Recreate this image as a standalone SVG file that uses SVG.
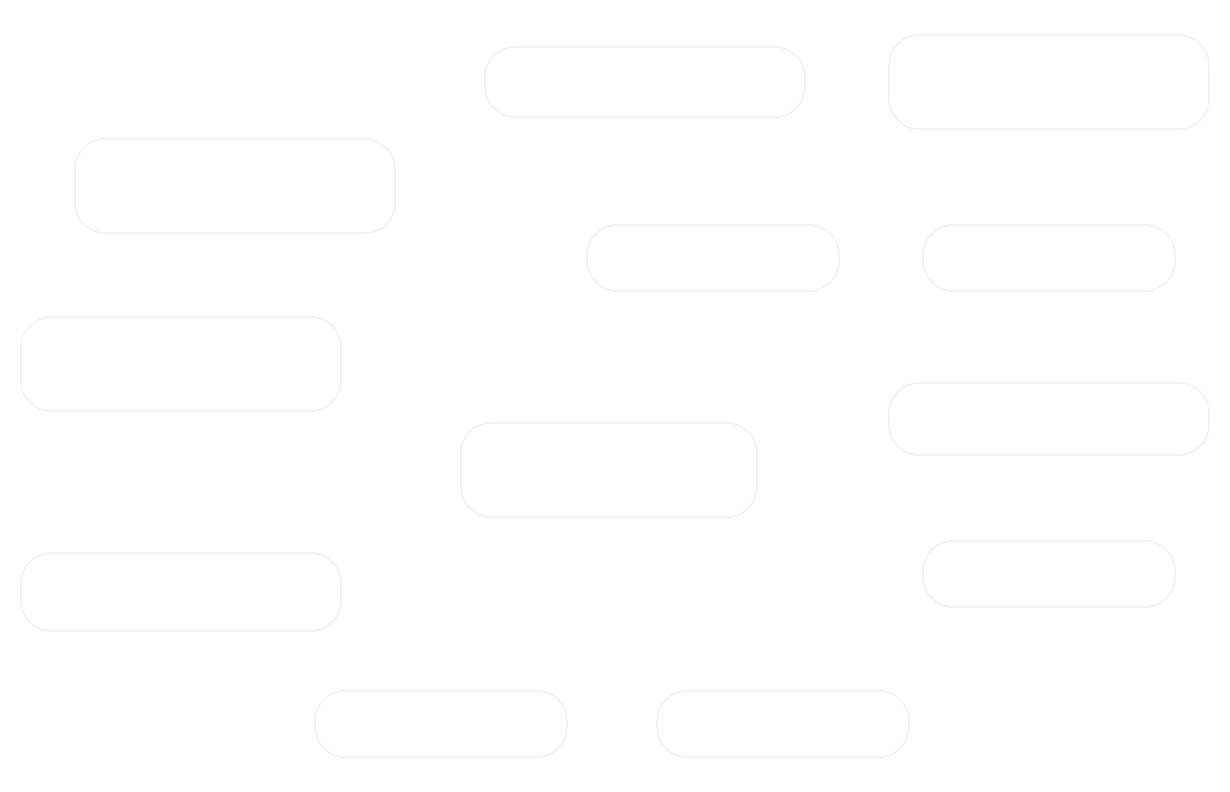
<svg xmlns="http://www.w3.org/2000/svg" width="1230" height="792" viewBox="0 0 1230 792">
<style>
.n{fill:#ffffff;stroke:#f0f0f0;stroke-width:1.5}
</style>
<rect width="1230" height="792" fill="#ffffff"/>
<g id="connectors"></g>
<g id="n1"><rect class="n" x="485" y="47" width="320" height="70" rx="30"/></g>
<g id="n2"><rect class="n" x="889" y="35" width="320" height="94" rx="30"/></g>
<g id="n3"><rect class="n" x="75" y="139" width="320" height="94" rx="30"/></g>
<g id="n4"><rect class="n" x="587" y="225" width="252" height="66" rx="30"/></g>
<g id="n5"><rect class="n" x="923" y="225" width="252" height="66" rx="30"/></g>
<g id="n6"><rect class="n" x="21" y="317" width="320" height="94" rx="30"/></g>
<g id="n7"><rect class="n" x="889" y="383" width="320" height="72" rx="30"/></g>
<g id="n8"><rect class="n" x="461" y="423" width="296" height="94" rx="30"/></g>
<g id="n9"><rect class="n" x="21" y="553" width="320" height="78" rx="30"/></g>
<g id="n10"><rect class="n" x="923" y="541" width="252" height="66" rx="30"/></g>
<g id="n11"><rect class="n" x="315" y="691" width="252" height="66" rx="30"/></g>
<g id="n12"><rect class="n" x="657" y="691" width="252" height="66" rx="30"/></g>
</svg>
